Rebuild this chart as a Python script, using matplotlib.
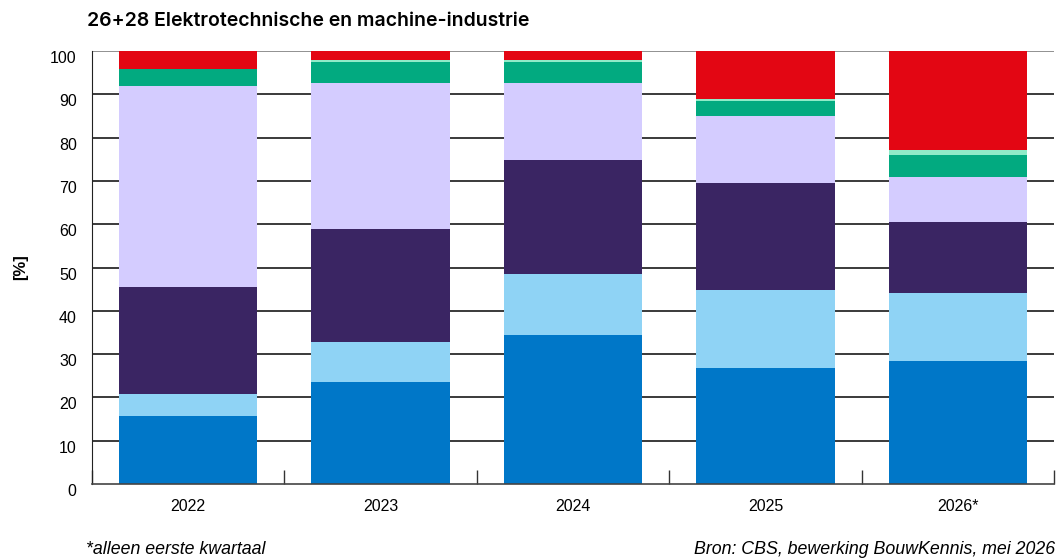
import numpy as np
import matplotlib.pyplot as plt
import matplotlib.transforms as mtransforms

years = ["2022", "2023", "2024", "2025", "2026*"]

# aandelen per jaar [%], van onder naar boven gestapeld
blauw = [15.7, 23.5, 34.3, 26.7, 28.3]
lichtblauw = [5.0, 9.4, 14.3, 18.0, 15.7]
paars = [24.7, 25.9, 26.3, 24.9, 16.4]
lila = [46.5, 33.8, 17.7, 15.4, 10.6]
groen = [4.0, 4.9, 4.9, 3.5, 5.0]
mint = [0.0, 0.4, 0.4, 0.4, 1.2]
rood = [4.1, 2.1, 2.1, 11.1, 22.8]

series = [blauw, lichtblauw, paars, lila, groen, mint, rood]
colors = ["#0077c8", "#8fd3f5", "#3a2563", "#d4ccff", "#02aa80", "#8febc8", "#e30613"]

plt.rcParams['font.family'] = ['Liberation Sans', 'DejaVu Sans']

fig = plt.figure(figsize=(10.57, 5.6), dpi=100)
ax = fig.add_axes([92/1057, 1-484/560, (1054-92)/1057, (484-51)/560])

x = np.arange(len(years))
bottom = np.zeros(len(years))
for vals, c in zip(series, colors):
    vals = np.array(vals)
    ax.bar(x, vals, width=0.72, bottom=bottom, color=c, zorder=3, linewidth=0)
    bottom += vals

# horizontale rasterlijnen
for yv in range(10, 101, 10):
    ax.axhline(yv, color='#888888' if yv == 100 else '#2b2b2b', lw=1.3, zorder=1)

ax.set_xlim(-0.5, len(years)-0.5)
ax.set_ylim(0, 100)
ax.set_yticks(range(0, 101, 10))
ax.set_yticklabels([str(v) for v in range(0, 101, 10)], fontsize=11.5)
ax.tick_params(axis='y', length=0, pad=11)
# labels iets onder de lijnen
shift = mtransforms.ScaledTranslation(0, -6/100, fig.dpi_scale_trans)
for lbl in ax.get_yticklabels():
    lbl.set_transform(lbl.get_transform() + shift)

# streepjes tussen de categorieën, labels in het midden
ax.set_xticks(np.arange(-0.5, len(years), 1.0))
ax.set_xticklabels([])
ax.set_xticks(x, minor=True)
ax.set_xticklabels(years, minor=True, fontsize=11.5)
ax.tick_params(axis='x', which='major', direction='in', length=10, width=1, color='#333333')
ax.tick_params(axis='x', which='minor', length=0, pad=11)

for s in ['top', 'right']:
    ax.spines[s].set_visible(False)
ax.spines['left'].set_color('#222222')
ax.spines['bottom'].set_color('#444444')
ax.spines['bottom'].set_linewidth(1.2)
ax.spines['left'].set_zorder(4)
ax.spines['bottom'].set_zorder(4)

ax.set_ylabel("[%]", fontsize=12, fontweight='bold', labelpad=16)

fig.text(87/1057, 1-21/560, "26+28 Elektrotechnische en machine-industrie",
         fontsize=14, fontweight='semibold', family=['Inter', 'DejaVu Sans'], va='center', ha='left')
fig.text(86/1057, 1-549/560, "*alleen eerste kwartaal", fontsize=12.8, style='italic',
         va='center', ha='left')
fig.text(1055/1057, 1-549/560, "Bron: CBS, bewerking BouwKennis, mei 2026", fontsize=12.8,
         style='italic', va='center', ha='right')

fig.savefig("out.png", dpi=100)
